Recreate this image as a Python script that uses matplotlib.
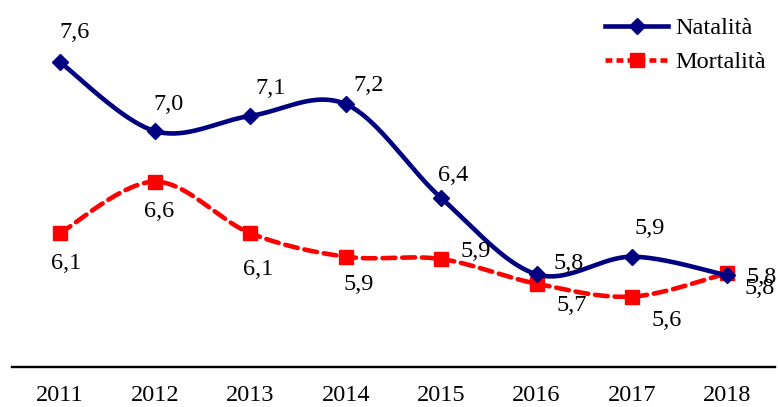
import numpy as np
import matplotlib
matplotlib.use("Agg")
import matplotlib.pyplot as plt
from matplotlib.lines import Line2D

years = ["2011", "2012", "2013", "2014", "2015", "2016", "2017", "2018"]
natalita = [7.60, 7.01, 7.14, 7.24, 6.44, 5.79, 5.94, 5.78]
mortalita = [6.14, 6.58, 6.14, 5.94, 5.92, 5.71, 5.60, 5.80]

# label offsets in pixels (dx, dy image-down)
nat_off = [(15, -29), (13, -27), (20, -27), (23, -19), (12, -23), (32, -11), (18, -28), (34, 2)]
mor_off = [(6, 30), (4, 30), (8, 36), (13, 28), (35, -8), (35, 22), (35, 24), (32, 15)]

plt.rcParams['font.family'] = ['Liberation Serif', 'DejaVu Serif']

NAVY = '#000080'
RED = '#FF0000'


def smooth(xs, ys, n=40):
    # Excel-like smoothing: cubic Bezier with Catmull-Rom control points
    xs = np.asarray(xs, float)
    ys = np.asarray(ys, float)
    P = np.column_stack([xs, ys])
    out = []
    for i in range(len(P) - 1):
        p0 = P[i - 1] if i > 0 else P[i]
        p1 = P[i]
        p2 = P[i + 1]
        p3 = P[i + 2] if i + 2 < len(P) else P[i + 1]
        c1 = p1 + (p2 - p0) / 6.0
        c2 = p2 - (p3 - p1) / 6.0
        t = np.linspace(0, 1, n)[:, None]
        seg = ((1 - t) ** 3) * p1 + 3 * ((1 - t) ** 2) * t * c1 + 3 * (1 - t) * t ** 2 * c2 + t ** 3 * p2
        out.append(seg if i == 0 else seg[1:])
    S = np.vstack(out)
    return S[:, 0], S[:, 1]


fig = plt.figure(figsize=(7.78, 4.07), dpi=100)
ax = fig.add_axes([12 / 778, 1 - 367 / 407, (775 - 12) / 778, (367 - 15) / 407])

x = np.arange(len(years))

sx, sy = smooth(x, mortalita)
ax.plot(sx, sy, color=RED, lw=3.3, dashes=(2.8, 1.5), dash_capstyle='round', solid_capstyle='round', zorder=2)
ax.plot(x, mortalita, ls='none', marker='s', ms=10, color=RED, zorder=3)

sx, sy = smooth(x, natalita)
ax.plot(sx, sy, color=NAVY, lw=3.3, solid_capstyle='round', zorder=4)
ax.plot(x, natalita, ls='none', marker='D', ms=8, color=NAVY, zorder=5)

fs = 17.5
for xi, v, (dx, dy) in zip(x, natalita, nat_off):
    ax.annotate(f"{v:.1f}".replace('.', ','), (xi, v), xytext=(dx, -dy),
                textcoords='offset pixels', ha='center', va='center', fontsize=fs, zorder=6)
for xi, v, (dx, dy) in zip(x, mortalita, mor_off):
    ax.annotate(f"{v:.1f}".replace('.', ','), (xi, v), xytext=(dx, -dy),
                textcoords='offset pixels', ha='center', va='center', fontsize=fs, zorder=6)

ax.set_xlim(-0.5, len(years) - 0.5)
ax.set_ylim(5, 8)
ax.set_xticks(x)
ax.set_xticklabels(years, fontsize=fs)
ax.set_yticks([])
ax.tick_params(axis='x', length=0, pad=13)
for s in ['top', 'right', 'left']:
    ax.spines[s].set_visible(False)
ax.spines['bottom'].set_linewidth(1.7)
ax.spines['bottom'].set_color('black')

handles = [
    Line2D([], [], color=NAVY, lw=3.3, marker='D', ms=8),
    Line2D([], [], color=RED, lw=3.3, dashes=(1.5, 0.9), marker='s', ms=10),
]
fig.legend(handles, ["Natalità", "Mortalità"], loc='upper left',
           bbox_to_anchor=(588 / 778, 1 - 0 / 407), frameon=False, fontsize=fs,
           handlelength=2.6, handletextpad=0.3, labelspacing=0.5, borderpad=0.2)

fig.savefig("out.png", dpi=100)
